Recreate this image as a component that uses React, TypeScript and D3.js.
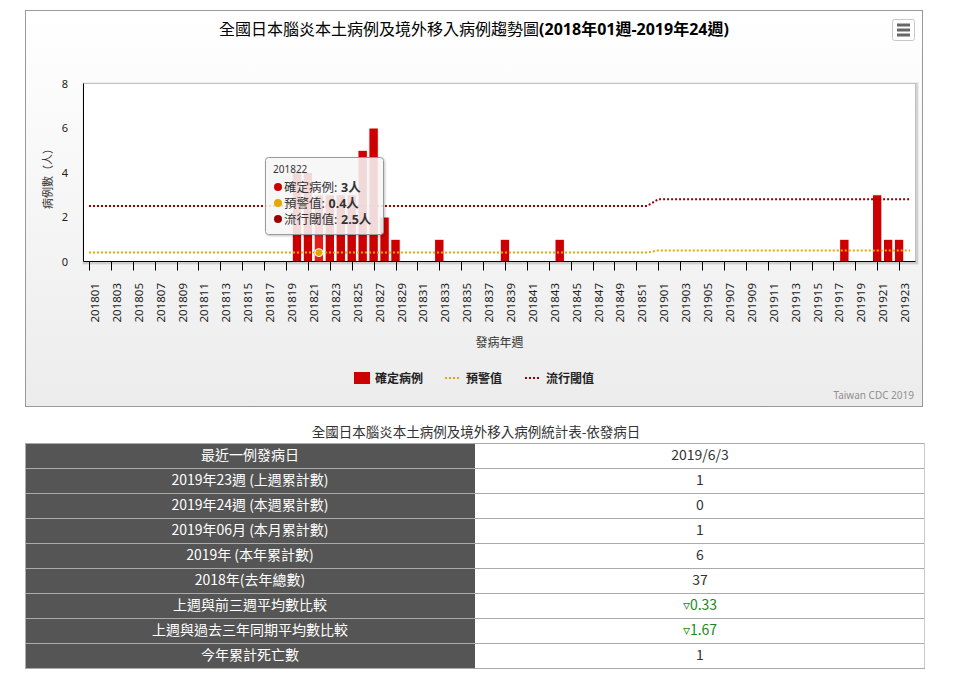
import React from 'react';
import * as d3 from 'd3';

const weeks: string[] = [
  '201801','201802','201803','201804','201805','201806','201807','201808','201809','201810',
  '201811','201812','201813','201814','201815','201816','201817','201818','201819','201820',
  '201821','201822','201823','201824','201825','201826','201827','201828','201829','201830',
  '201831','201832','201833','201834','201835','201836','201837','201838','201839','201840',
  '201841','201842','201843','201844','201845','201846','201847','201848','201849','201850',
  '201851','201852',
  '201901','201902','201903','201904','201905','201906','201907','201908','201909','201910',
  '201911','201912','201913','201914','201915','201916','201917','201918','201919','201920',
  '201921','201922','201923','201924',
];

const cases: number[] = [
  0,0,0,0,0,0,0,0,0,0, 0,0,0,0,0,0,0,0,0,4, 4,3,3,3,3,5,6,2,1,0, 0,0,1,0,0,0,0,0,1,0,
  0,0,0,1,0,0,0,0,0,0, 0,0,
  0,0,0,0,0,0,0,0,0,0, 0,0,0,0,0,0,0,1,0,0, 3,1,1,0,
];

const warning: number[] = [
  0.4,0.4,0.4,0.4,0.4,0.4,0.4,0.4,0.4,0.4, 0.4,0.4,0.4,0.4,0.4,0.4,0.4,0.4,0.4,0.4,
  0.4,0.4,0.4,0.4,0.4,0.4,0.4,0.4,0.4,0.4, 0.4,0.4,0.4,0.4,0.4,0.4,0.4,0.4,0.4,0.4,
  0.4,0.4,0.4,0.4,0.4,0.4,0.4,0.4,0.4,0.4, 0.4,0.4,
  0.5,0.5,0.5,0.5,0.5,0.5,0.5,0.5,0.5,0.5, 0.5,0.5,0.5,0.5,0.5,0.5,0.5,0.5,0.5,0.5,
  0.5,0.5,0.5,0.5,
];

const threshold: number[] = [
  2.5,2.5,2.5,2.5,2.5,2.5,2.5,2.5,2.5,2.5, 2.5,2.5,2.5,2.5,2.5,2.5,2.5,2.5,2.5,2.5,
  2.5,2.5,2.5,2.5,2.5,2.5,2.5,2.5,2.5,2.5, 2.5,2.5,2.5,2.5,2.5,2.5,2.5,2.5,2.5,2.5,
  2.5,2.5,2.5,2.5,2.5,2.5,2.5,2.5,2.5,2.5, 2.5,2.5,
  2.8,2.8,2.8,2.8,2.8,2.8,2.8,2.8,2.8,2.8, 2.8,2.8,2.8,2.8,2.8,2.8,2.8,2.8,2.8,2.8,
  2.8,2.8,2.8,2.8,
];

const yTicks: number[] = [0, 2, 4, 6, 8];
const seriesNames: string[] = ['確定病例', '預警值', '流行閾值'];
const seriesColors: string[] = ['#cc0000', '#e6a800', '#990000'];
const hoverIndex = 21;

const chartTitle = '全國日本腦炎本土病例及境外移入病例趨勢圖';
const chartTitleRange = '(2018年01週-2019年24週)';
const yTitle = '病例數（人）';
const xTitle = '發病年週';
const credits = 'Taiwan CDC 2019';

const tableTitle = '全國日本腦炎本土病例及境外移入病例統計表-依發病日';
const tableLabels: string[] = [
  '最近一例發病日',
  '2019年23週 (上週累計數)',
  '2019年24週 (本週累計數)',
  '2019年06月 (本月累計數)',
  '2019年 (本年累計數)',
  '2018年(去年總數)',
  '上週與前三週平均數比較',
  '上週與過去三年同期平均數比較',
  '今年累計死亡數',
];
const tableValues: string[] = ['2019/6/3', '1', '0', '1', '6', '37', '▿0.33', '▿1.67', '1'];
const tableValueGreen: boolean[] = [false, false, false, false, false, false, true, true, false];

const FONT = '"Noto Sans", "Noto Sans CJK TC", sans-serif';
const CJK = '"Noto Sans CJK TC", "Noto Sans", sans-serif';

export default function App() {
  const W = 975, H = 683;
  const pl = 83.5, pr = 915.5, pt = 83.5, pb = 261.5;

  const x = d3.scaleBand<string>().domain(weeks).range([pl, pr]).padding(0);
  const bw = x.bandwidth();
  const cx = (i: number) => (x(weeks[i]) as number) + bw / 2;
  const y = d3.scaleLinear().domain([0, 8]).range([pb, pt]);

  const line = d3.line<number>().x((_, i) => cx(i)).y((d) => y(d));

  const barW = bw * 0.86;

  const rowH = 25, tableTop = 443, tableL = 25, tableMid = 475, tableR = 925;

  const tipFont = 12.5;
  const tipRow0 = 187;
  const tipStep = 16;
  const labelW = (s: string) => s.length * tipFont + 7;

  return (
    <svg width={W} height={H} style={{ position: 'absolute', left: 0, top: 0 }} fontFamily={FONT}>
      <defs>
        <linearGradient id="bg" x1="0" y1="0" x2="0" y2="1">
          <stop offset="0" stopColor="#ffffff" />
          <stop offset="1" stopColor="#ececec" />
        </linearGradient>
        <filter id="tipShadow" x="-10%" y="-10%" width="130%" height="130%">
          <feDropShadow dx="1" dy="1" stdDeviation="1" floodColor="#000" floodOpacity="0.25" />
        </filter>
      </defs>
      <rect x={0} y={0} width={W} height={H} fill="#fff" />

      {/* chart container */}
      <rect x={25.5} y={10.5} width={897} height={396} fill="url(#bg)" stroke="#999" strokeWidth={1} />

      {/* title */}
      <text x={474} y={35} textAnchor="middle" fontSize={16} fill="#000" fontFamily={FONT}>
        <tspan fontFamily={CJK}>{chartTitle}</tspan>
        <tspan fontWeight="bold">{chartTitleRange}</tspan>
      </text>

      {/* menu button */}
      <rect x={892.5} y={19.5} width={22} height={21} rx={2} fill="#fff" stroke="#c8c8c8" />
      {[25, 30, 35].map((yy) => (
        <line key={yy} x1={897} x2={910} y1={yy} y2={yy} stroke="#666" strokeWidth={3} />
      ))}

      {/* plot background + shadow */}
      <rect x={pl + 1} y={pt + 1} width={pr - pl} height={pb - pt} fill="none" stroke="rgba(0,0,0,0.05)" strokeWidth={5} />
      <rect x={pl + 1} y={pt + 1} width={pr - pl} height={pb - pt} fill="none" stroke="rgba(0,0,0,0.1)" strokeWidth={3} />
      <rect x={pl} y={pt} width={pr - pl} height={pb - pt} fill="#fff" stroke="#c0c0c0" strokeWidth={1} />

      {/* bars */}
      {cases.map((v, i) =>
        v > 0 ? (
          <rect
            key={weeks[i]}
            x={cx(i) - barW / 2}
            y={y(v)}
            width={barW}
            height={pb - y(v)}
            fill={i === hoverIndex ? '#e61a1a' : seriesColors[0]}
            stroke="#fff"
            strokeWidth={1}
          />
        ) : null
      )}

      {/* lines */}
      <path d={line(warning) || ''} fill="none" stroke={seriesColors[1]} strokeWidth={2} strokeDasharray="2,2" />
      <path d={line(threshold) || ''} fill="none" stroke={seriesColors[2]} strokeWidth={2} strokeDasharray="2,2" />

      {/* axes */}
      <line x1={pl} x2={pl} y1={pt} y2={pb} stroke="#000" strokeWidth={1} />
      <line x1={pl} x2={pr} y1={pb} y2={pb} stroke="#000" strokeWidth={1} />
      {weeks.map((w, i) =>
        i % 2 === 0 ? (
          <g key={w}>
            <line x1={Math.round(cx(i)) + 0.5} x2={Math.round(cx(i)) + 0.5} y1={pb} y2={pb + 9} stroke="#000" strokeWidth={1} />
            <text
              transform={`translate(${cx(i) + 10},283) rotate(-90)`}
              textAnchor="end"
              fontSize={11.5}
              fill="#222"
            >
              {w}
            </text>
          </g>
        ) : null
      )}
      {yTicks.map((t) => (
        <text key={t} x={68} y={y(t) + 4} textAnchor="end" fontSize={11} fill="#222">
          {t}
        </text>
      ))}
      <text transform="translate(52,176) rotate(-90)" textAnchor="middle" fontSize={11} fill="#333" fontFamily={CJK}>
        {yTitle}
      </text>
      <text x={(pl + pr) / 2} y={347} textAnchor="middle" fontSize={12} fill="#333" fontFamily={CJK}>
        {xTitle}
      </text>

      {/* hover marker */}
      <circle cx={cx(hoverIndex)} cy={y(warning[hoverIndex])} r={4} fill={seriesColors[1]} stroke="#fff" strokeWidth={1} />

      {/* tooltip */}
      <g>
        <rect x={265.5} y={157.5} width={118} height={77} rx={3} fill="rgba(250,250,250,0.85)" stroke="#999" strokeWidth={1} filter="url(#tipShadow)" />
        <text x={273} y={173} fontSize={10} fill="#333">{weeks[hoverIndex]}</text>
        {[cases[hoverIndex], warning[hoverIndex], threshold[hoverIndex]].map((v, k) => (
          <g key={k}>
            <circle cx={278} cy={tipRow0 + k * tipStep} r={4} fill={seriesColors[k]} />
            <text x={284} y={tipRow0 + 4.5 + k * tipStep} fontSize={tipFont} fill="#333" fontFamily={FONT}>
              {seriesNames[k] + ':'}
            </text>
            <text x={284 + labelW(seriesNames[k])} y={tipRow0 + 4.5 + k * tipStep} fontSize={tipFont} fontWeight="bold" fill="#333" fontFamily={FONT}>
              {v + '人'}
            </text>
          </g>
        ))}
      </g>

      {/* legend */}
      <rect x={354} y={372} width={16} height={12} fill={seriesColors[0]} />
      <text x={375} y={383} fontSize={12} fontWeight="bold" fill="#222" fontFamily={CJK}>{seriesNames[0]}</text>
      <line x1={445} x2={461} y1={378} y2={378} stroke={seriesColors[1]} strokeWidth={2} strokeDasharray="2,2" />
      <text x={466} y={383} fontSize={12} fontWeight="bold" fill="#222" fontFamily={CJK}>{seriesNames[1]}</text>
      <line x1={525} x2={541} y1={378} y2={378} stroke={seriesColors[2]} strokeWidth={2} strokeDasharray="2,2" />
      <text x={546} y={383} fontSize={12} fontWeight="bold" fill="#222" fontFamily={CJK}>{seriesNames[2]}</text>

      {/* credits */}
      <text x={914} y={399} textAnchor="end" fontSize={10} fill="#909090">{credits}</text>

      {/* table */}
      <text x={476} y={437} textAnchor="middle" fontSize={13.5} fill="#333" fontFamily={CJK}>{tableTitle}</text>
      {tableLabels.map((lab, i) => {
        const ty = tableTop + i * rowH;
        return (
          <g key={lab}>
            <rect x={tableL} y={ty} width={tableMid - tableL} height={rowH} fill="#555" />
            <rect x={tableMid} y={ty} width={tableR - tableMid} height={rowH} fill="#fff" />
            <text x={(tableL + tableMid) / 2} y={ty + 17} textAnchor="middle" fontSize={14} fill="#fff" fontFamily={CJK}>
              {lab}
            </text>
            <text
              x={(tableMid + tableR) / 2}
              y={ty + 17}
              textAnchor="middle"
              fontSize={14}
              fill={tableValueGreen[i] ? '#1a8a1a' : '#333'}
              fontFamily={CJK}
            >
              {tableValues[i]}
            </text>
          </g>
        );
      })}
      {d3.range(tableLabels.length + 1).map((i) => (
        <line
          key={i}
          x1={tableL}
          x2={tableR}
          y1={tableTop + i * rowH + 0.5}
          y2={tableTop + i * rowH + 0.5}
          stroke="#aaa"
          strokeWidth={1}
        />
      ))}
      <line x1={tableL + 0.5} x2={tableL + 0.5} y1={tableTop} y2={tableTop + rowH * tableLabels.length} stroke="#aaa" />
      <line x1={tableR - 0.5} x2={tableR - 0.5} y1={tableTop} y2={tableTop + rowH * tableLabels.length} stroke="#ccc" />
    </svg>
  );
}
